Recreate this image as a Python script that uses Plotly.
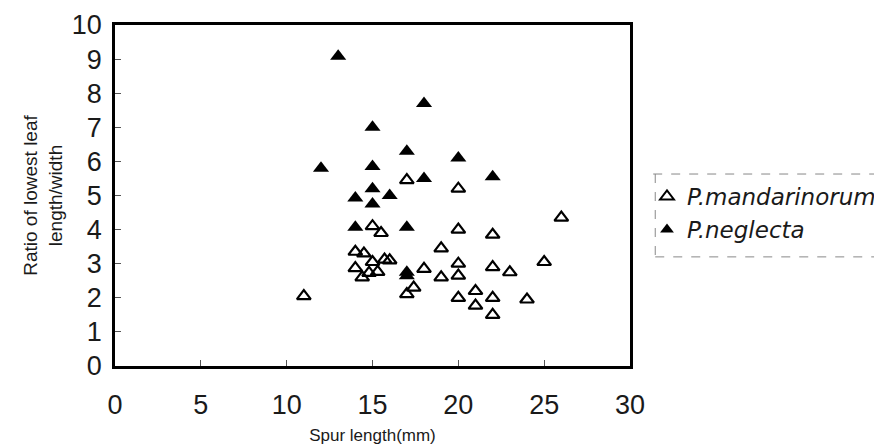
import plotly.graph_objects as go

# P. mandarinorum (open triangles)
mand_x = [11, 14, 14.5, 14, 14.4, 14.8, 15.3, 15, 15.7, 16, 15, 15.5, 17, 17, 17.4,
          18, 19, 19, 20, 20, 20, 20, 20, 21, 21, 22, 22, 22, 22, 23, 24, 25, 26]
mand_y = [2.05, 3.35, 3.3, 2.87, 2.6, 2.73, 2.76, 3.05, 3.12, 3.1, 4.1, 3.9, 5.45, 2.11, 2.3,
          2.85, 3.45, 2.6, 5.2, 4.0, 3.0, 2.65, 2.0, 2.2, 1.77, 3.85, 2.9, 2.0, 1.5, 2.75, 1.95, 3.05, 4.35]

# P. neglecta (filled triangles)
negl_x = [12, 13, 14, 14, 15, 15, 15, 15, 16, 17, 17, 17, 17, 18, 18, 20, 22]
negl_y = [5.8, 9.08, 4.93, 4.07, 7.0, 5.85, 5.2, 4.75, 5.0, 6.3, 4.07, 2.75, 2.65, 7.7, 5.5, 6.1, 5.55]

x_ticks = [0, 5, 10, 15, 20, 25, 30]
y_ticks = list(range(0, 11))

FONT = "Liberation Sans"

fig = go.Figure()
fig.add_trace(go.Scatter(
    x=mand_x, y=mand_y, mode="markers", name="<i>P.mandarinorum</i>",
    marker=dict(symbol="triangle-up-open", size=12, color="black", line=dict(width=2.2, color="black")),
))
fig.add_trace(go.Scatter(
    x=negl_x, y=negl_y, mode="markers", name="<i>P.neglecta</i>",
    marker=dict(symbol="triangle-up", size=14, color="black"),
))

axis_common = dict(
    showgrid=False, zeroline=False, showline=True, linecolor="black", linewidth=2.5,
    mirror=True, ticks="inside", ticklen=6, tickcolor="#555", tickwidth=1,
    tickfont=dict(family=FONT, size=27, color="#1a1a1a"),
)

fig.update_xaxes(range=[0, 30], tickvals=x_ticks, ticktext=[str(v) for v in x_ticks],
                 ticklabelstandoff=13,
                 title=dict(text="Spur length(mm)", font=dict(family=FONT, size=17, color="#1a1a1a"), standoff=10),
                 **axis_common)
fig.update_yaxes(range=[0, 10], tickvals=y_ticks, ticktext=[str(v) for v in y_ticks],
                 ticklabelstandoff=5,
                 title=dict(text="Ratio of lowest leaf<br>length/width", font=dict(family=FONT, size=19, color="#1a1a1a"), standoff=5),
                 **axis_common)

# broken legend frame
for (x0, y0, x1, y1) in [(1.045, 0.563, 1.5, 0.563), (1.049, 0.563, 1.049, 0.32), (1.049, 0.32, 1.5, 0.32)]:
    fig.add_shape(type="line", xref="paper", yref="paper", x0=x0, y0=y0, x1=x1, y1=y1,
                  line=dict(color="#888", width=1, dash="dash"))

fig.update_layout(
    width=882, height=448,
    margin=dict(l=107, r=260, t=17, b=90, autoexpand=False),
    paper_bgcolor="white", plot_bgcolor="white",
    showlegend=True,
    legend=dict(x=1.033, y=0.56, xanchor="left", yanchor="top",
                font=dict(family="DejaVu Sans", size=23, color="#1a1a1a"),
                bgcolor="rgba(0,0,0,0)", itemsizing="constant", tracegroupgap=0),
)

fig.write_html("out.html")
